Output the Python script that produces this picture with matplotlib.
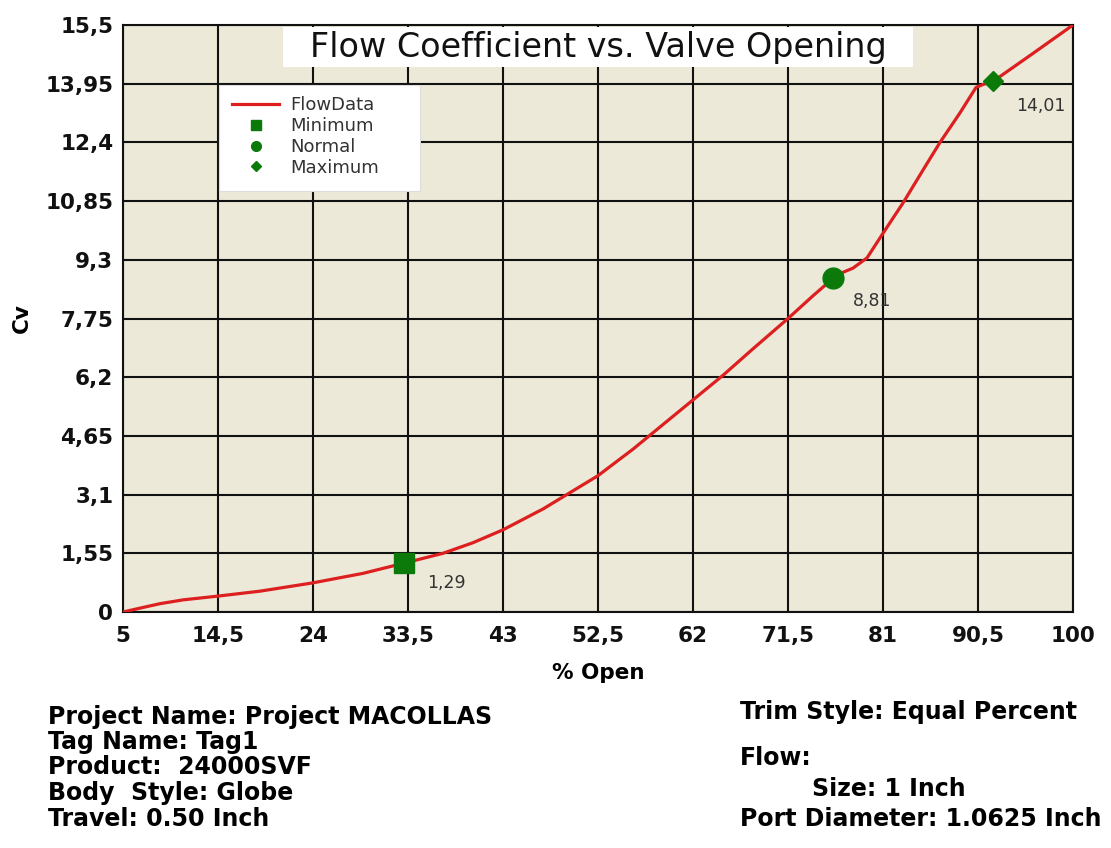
import matplotlib.pyplot as plt
from matplotlib.lines import Line2D
from matplotlib.patches import Rectangle

# values
pct_open = [5, 7, 8.7, 11, 14.5, 18.7, 24, 29, 33.1, 37, 40, 43, 47, 50, 52.5, 56, 59,
            62, 65, 68, 71.5, 74, 76, 77, 78, 79.4, 81, 83, 85, 86.7, 88.7, 89.7, 90.3,
            91, 92, 96, 100]
cv = [0, 0.12, 0.22, 0.32, 0.42, 0.55, 0.77, 1.02, 1.29, 1.55, 1.83, 2.17, 2.72, 3.2,
      3.6, 4.3, 4.95, 5.6, 6.25, 6.95, 7.75, 8.35, 8.81, 8.97, 9.08, 9.35, 10.0, 10.8,
      11.67, 12.4, 13.18, 13.6, 13.85, 13.93, 14.01, 14.75, 15.5]

point_names = ["Minimum", "Normal", "Maximum"]
point_x = [33.1, 76, 92]
point_cv = [1.29, 8.81, 14.01]
point_labels = ["1,29", "8,81", "14,01"]

x_ticks = [5, 14.5, 24, 33.5, 43, 52.5, 62, 71.5, 81, 90.5, 100]
x_tick_labels = ["5", "14,5", "24", "33,5", "43", "52,5", "62", "71,5", "81", "90,5", "100"]
y_ticks = [0, 1.55, 3.1, 4.65, 6.2, 7.75, 9.3, 10.85, 12.4, 13.95, 15.5]
y_tick_labels = ["0", "1,55", "3,1", "4,65", "6,2", "7,75", "9,3", "10,85", "12,4", "13,95", "15,5"]

info_left = ["Project Name: Project MACOLLAS", "Tag Name: Tag1", "Product:  24000SVF",
             "Body  Style: Globe", "Travel: 0.50 Inch"]

RED = "#DD1F1F"
GREEN = "#0B7A0B"
BEIGE = "#ECE9D8"
W, H = 1111, 848

fig = plt.figure(figsize=(W / 100, H / 100), dpi=100, facecolor="white")
ax = fig.add_axes([123 / W, 1 - 612 / H, 950 / W, 587 / H])
ax.set_facecolor(BEIGE)

ax.plot(pct_open, cv, color=RED, lw=2.3, zorder=3, solid_capstyle="round",
        solid_joinstyle="round")
markers = ["s", "o", "D"]
sizes = [15, 15, 10]
for x, y, m, s in zip(point_x, point_cv, markers, sizes):
    ax.plot([x], [y], marker=m, ms=s, color=GREEN, mec=GREEN, ls="none", zorder=4,
            clip_on=False)
offsets = [(17, -14), (14, -16), (17, -18)]
for x, y, lab, off in zip(point_x, point_cv, point_labels, offsets):
    ax.annotate(lab, (x, y), xytext=off, textcoords="offset points", fontsize=12.5,
                color="#333333", ha="left", va="center", zorder=5)

ax.set_xlim(5, 100)
ax.set_ylim(0, 15.5)
ax.set_xticks(x_ticks)
ax.set_xticklabels(x_tick_labels)
ax.set_yticks(y_ticks)
ax.set_yticklabels(y_tick_labels)
ax.tick_params(length=0, labelsize=15.5, pad=7, colors="#111111")
ax.tick_params(axis="x", pad=10)
for lab in ax.get_xticklabels() + ax.get_yticklabels():
    lab.set_fontweight("bold")
ax.grid(True, color="#111111", lw=1.5, zorder=1)
ax.set_axisbelow(True)
for sp in ax.spines.values():
    sp.set_color("#111111")
    sp.set_linewidth(1.5)

ax.set_xlabel("% Open", fontsize=15.5, fontweight="bold", labelpad=12)
ax.set_ylabel("Cv", fontsize=15.5, fontweight="bold", labelpad=10)

# title box drawn over the grid
ax.add_patch(Rectangle((160 / 950, 1 - 42 / 587), 630 / 950, 40 / 587,
                       transform=ax.transAxes, facecolor="white", edgecolor="none",
                       zorder=6, clip_on=False))
ax.text(475 / 950, 1 - 22 / 587, "Flow Coefficient vs. Valve Opening", transform=ax.transAxes,
        fontsize=24, ha="center", va="center", color="#111111", zorder=7)

# legend panel
ax.add_patch(Rectangle((96 / 950, 1 - 166 / 587), 201 / 950, 106 / 587,
                       transform=ax.transAxes, facecolor="white", edgecolor="#DDDDDD",
                       lw=0.8, zorder=6, clip_on=False))
handles = [Line2D([], [], color=RED, lw=2.3),
           Line2D([], [], marker="s", ms=7, color=GREEN, ls="none"),
           Line2D([], [], marker="o", ms=7, color=GREEN, ls="none"),
           Line2D([], [], marker="D", ms=5.5, color=GREEN, ls="none")]
leg = ax.legend(handles, ["FlowData"] + point_names, loc="upper left",
                bbox_to_anchor=(104 / 950, 1 - 66 / 587), fontsize=13,
                frameon=False, labelspacing=0.15, handlelength=2.6, handletextpad=0.6,
                borderaxespad=0, borderpad=0.3)
leg.set_zorder(8)
for t in leg.get_texts():
    t.set_color("#333333")

y_rows = [717, 742, 767, 793, 819]
for txt, yy in zip(info_left, y_rows):
    fig.text(48 / W, 1 - yy / H, txt, fontsize=17, fontweight="bold", ha="left", va="center")
fig.text(740 / W, 1 - 712 / H, "Trim Style: Equal Percent", fontsize=17, fontweight="bold",
         ha="left", va="center")
fig.text(740 / W, 1 - 758 / H, "Flow:", fontsize=17, fontweight="bold", ha="left", va="center")
fig.text(812 / W, 1 - 789 / H, "Size: 1 Inch", fontsize=17, fontweight="bold",
         ha="left", va="center")
fig.text(740 / W, 1 - 819 / H, "Port Diameter: 1.0625 Inch", fontsize=17, fontweight="bold",
         ha="left", va="center")

fig.savefig("out.png", dpi=100, facecolor="white")
